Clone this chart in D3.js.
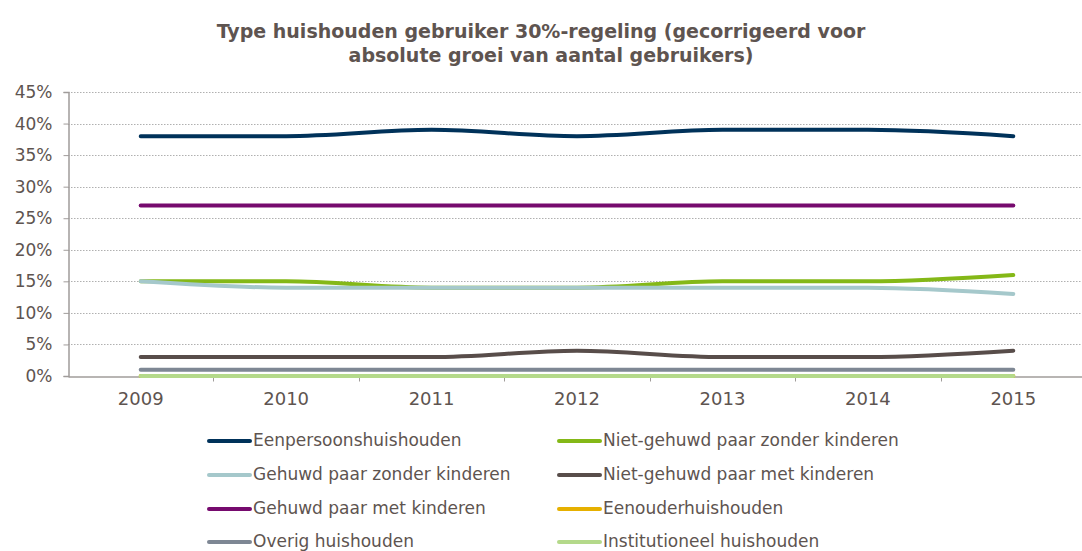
<!DOCTYPE html>
<html>
<head>
<meta charset="utf-8">
<script src="https://cdn.jsdelivr.net/npm/d3@7"></script>
<style>
  body { margin: 0; background: #fff; }
  svg { display: block; }
  text { font-family: "DejaVu Sans", Verdana, sans-serif; fill: #5e5450; }
</style>
</head>
<body>
<div class="graph"></div>
<script>
let w = 1082;
let h = 551;

let years = ["2009", "2010", "2011", "2012", "2013", "2014", "2015"];
let yTicks = [0, 5, 10, 15, 20, 25, 30, 35, 40, 45];

let seriesNames = [
  "Eenpersoonshuishouden",
  "Niet-gehuwd paar zonder kinderen",
  "Gehuwd paar zonder kinderen",
  "Niet-gehuwd paar met kinderen",
  "Gehuwd paar met kinderen",
  "Eenouderhuishouden",
  "Overig huishouden",
  "Institutioneel huishouden"
];
let colors = ["#00325a", "#84b817", "#a5c8cb", "#584d4a", "#760a6e", "#e6b000", "#7e8794", "#b4d98a"];

let eenpersoons = [38, 38, 39, 38, 39, 39, 38];
let nietGehuwdZonder = [15, 15, 14, 14, 15, 15, 16];
let gehuwdZonder = [15, 14, 14, 14, 14, 14, 13];
let nietGehuwdMet = [3, 3, 3, 4, 3, 3, 4];
let gehuwdMet = [27, 27, 27, 27, 27, 27, 27];
let eenouder = [0, 0, 0, 0, 0, 0, 0];
let overig = [1, 1, 1, 1, 1, 1, 1];
let institutioneel = [0, 0, 0, 0, 0, 0, 0];

let values = [eenpersoons, nietGehuwdZonder, gehuwdZonder, nietGehuwdMet, gehuwdMet, eenouder, overig, institutioneel];

let plotLeft = 68, plotRight = 1086, plotTop = 92, plotBottom = 376;

let svg = d3.select(".graph").append("svg").attr("width", w).attr("height", h);

// title
let title = svg.append("text")
  .attr("text-anchor", "middle")
  .style("font-size", "19px")
  .style("font-weight", "bold");
title.append("tspan").attr("x", 541).attr("y", 38).text("Type huishouden gebruiker 30%-regeling (gecorrigeerd voor");
title.append("tspan").attr("x", 551).attr("y", 62).text("absolute groei van aantal gebruikers)");

let xScale = d3.scaleBand().domain(years).range([plotLeft, plotRight]);
let yScale = d3.scaleLinear().domain([0, 45]).range([plotBottom, plotTop]);

// gridlines
svg.append("g")
  .selectAll("line")
  .data(yTicks.filter(d => d > 0))
  .enter()
  .append("line")
  .attr("x1", plotLeft)
  .attr("x2", w)
  .attr("y1", d => Math.round(yScale(d)) + 0.5)
  .attr("y2", d => Math.round(yScale(d)) + 0.5)
  .attr("stroke", "#b0b0b0")
  .attr("stroke-dasharray", "1.5,1.5");

// y axis
let yAxis = d3.axisLeft(yScale).tickValues(yTicks).tickSize(5).tickFormat(d => d + "%");
let gy = svg.append("g").attr("transform", "translate(" + (plotLeft + 0.5) + ",0)").call(yAxis);
gy.select(".domain").attr("stroke", "#a09c9a").attr("stroke-width", 1.5);
gy.selectAll(".tick line").attr("stroke", "#a09c9a");
gy.selectAll(".tick text").attr("x", -16).style("font-size", "17px").attr("fill", "#5e5450").attr("font-family", null);

// x axis
let xAxis = d3.axisBottom(xScale).tickSize(0).tickSizeOuter(0);
let gx = svg.append("g").attr("transform", "translate(0," + (plotBottom + 0.5) + ")").call(xAxis);
gx.select(".domain").attr("stroke", "#a09c9a").attr("stroke-width", 1.5);
gx.selectAll(".tick text").attr("y", 16).style("font-size", "18px").attr("fill", "#5e5450").attr("font-family", null);
gx.selectAll(".bnd")
  .data(years.slice(1))
  .enter()
  .append("line")
  .attr("x1", d => Math.round(xScale(d)) + 0.5)
  .attr("x2", d => Math.round(xScale(d)) + 0.5)
  .attr("y1", 0)
  .attr("y2", 5)
  .attr("stroke", "#a09c9a");

// lines
let line = d3.line()
  .x((d, i) => xScale(years[i]) + xScale.bandwidth() / 2)
  .y(d => yScale(d))
  .curve(d3.curveMonotoneX);

let drawOrder = [0, 1, 2, 3, 4, 5, 6, 7];
svg.append("g")
  .selectAll("path")
  .data(drawOrder)
  .enter()
  .append("path")
  .attr("d", i => line(values[i]))
  .attr("fill", "none")
  .attr("stroke", i => colors[i])
  .attr("stroke-width", 4)
  .attr("stroke-linecap", "round");

// legend
let legendX = [207, 557];
let legendY = [441, 475, 509, 542];
let legend = svg.append("g")
  .selectAll("g")
  .data(seriesNames)
  .enter()
  .append("g")
  .attr("transform", (d, i) => "translate(" + legendX[i % 2] + "," + legendY[Math.floor(i / 2)] + ")");
legend.append("line")
  .attr("x1", 2).attr("x2", 43)
  .attr("y1", 0).attr("y2", 0)
  .attr("stroke", (d, i) => colors[i])
  .attr("stroke-width", 4)
  .attr("stroke-linecap", "round");
legend.append("text")
  .attr("x", 46)
  .attr("y", 5)
  .style("font-size", "17px")
  .text(d => d);
</script>
</body>
</html>
